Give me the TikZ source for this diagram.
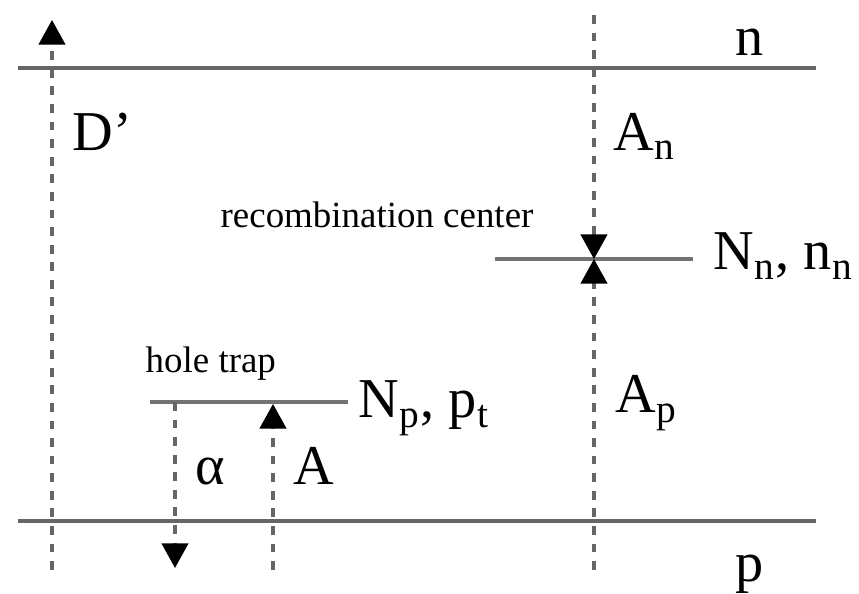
\documentclass[tikz,border=0pt]{standalone}
\usepackage{fontspec}
\setmainfont{Liberation Serif}
\usetikzlibrary{arrows.meta}
\tikzset{
  band/.style={draw=black!60, line width=0.9pt},
  level/.style={draw=black!55, line width=0.9pt},
  trans/.style={draw=black!60, line width=0.9pt, dash pattern=on 2.5pt off 2.5pt,
                -{Triangle[width=7.5pt, length=7pt, color=black]}},
  plain/.style={draw=black!60, line width=0.9pt, dash pattern=on 2.5pt off 2.5pt},
  lbl/.style={anchor=base west, inner sep=0pt, font=\fontsize{16}{18}\selectfont},
  note/.style={anchor=base west, inner sep=0pt, font=\fontsize{10.5}{12}\selectfont},
}

\begin{document}
\begin{tikzpicture}[x=0.01cm, y=-0.01cm]
  \useasboundingbox (0,0) rectangle (859,594);

  % band edges
  \coordinate (nL) at (18,68);   \coordinate (nR) at (816,68);
  \coordinate (pL) at (18,521);  \coordinate (pR) at (816,521);
  \draw[band] (nL) -- (nR);
  \draw[band] (pL) -- (pR);
  \node[lbl] (nlab) at (735,55) {n};
  \node[lbl] (plab) at (735,582) {p};

  % recombination center
  \coordinate (rcL) at (495,259); \coordinate (rcR) at (693,259);
  \coordinate (rc) at (594,259);
  \draw[level] (rcL) -- (rcR);
  \node[note] (rctext) at (220,228) {recombination center};
  \node[lbl] (rclab) at (713,270) {N\textsubscript{n}, n\textsubscript{n}};

  % hole trap
  \coordinate (htL) at (150,402); \coordinate (htR) at (348,402);
  \draw[level] (htL) -- (htR);
  \node[note] (httext) at (145,373) {hole trap};
  \node[lbl] (htlab) at (358,418) {N\textsubscript{p}, p\textsubscript{t}};

  % transitions
  \coordinate (dbot) at (52,570);  \coordinate (dtop) at (52,20);
  \coordinate (rtop) at (594,15);  \coordinate (rbot) at (594,570);
  \coordinate (atop) at (175,402); \coordinate (abot) at (175,568);
  \coordinate (cbot) at (273,570); \coordinate (ctop) at (273,404);
  \draw[trans] (dbot) -- (dtop);
  \draw[trans] (rtop) -- (rc);
  \draw[trans] (rbot) -- (rc);
  \draw[trans] (atop) -- (abot);
  \draw[trans] (cbot) -- (ctop);

  \node[lbl] (dlab) at (72,150) {D'};
  \node[lbl] (anlab) at (613,150) {A\textsubscript{n}};
  \node[lbl] (aplab) at (615,413) {A\textsubscript{p}};
  \node[lbl] (alab) at (195,485) {α};
  \node[lbl] (clab) at (293,485) {A};
\end{tikzpicture}
\end{document}
